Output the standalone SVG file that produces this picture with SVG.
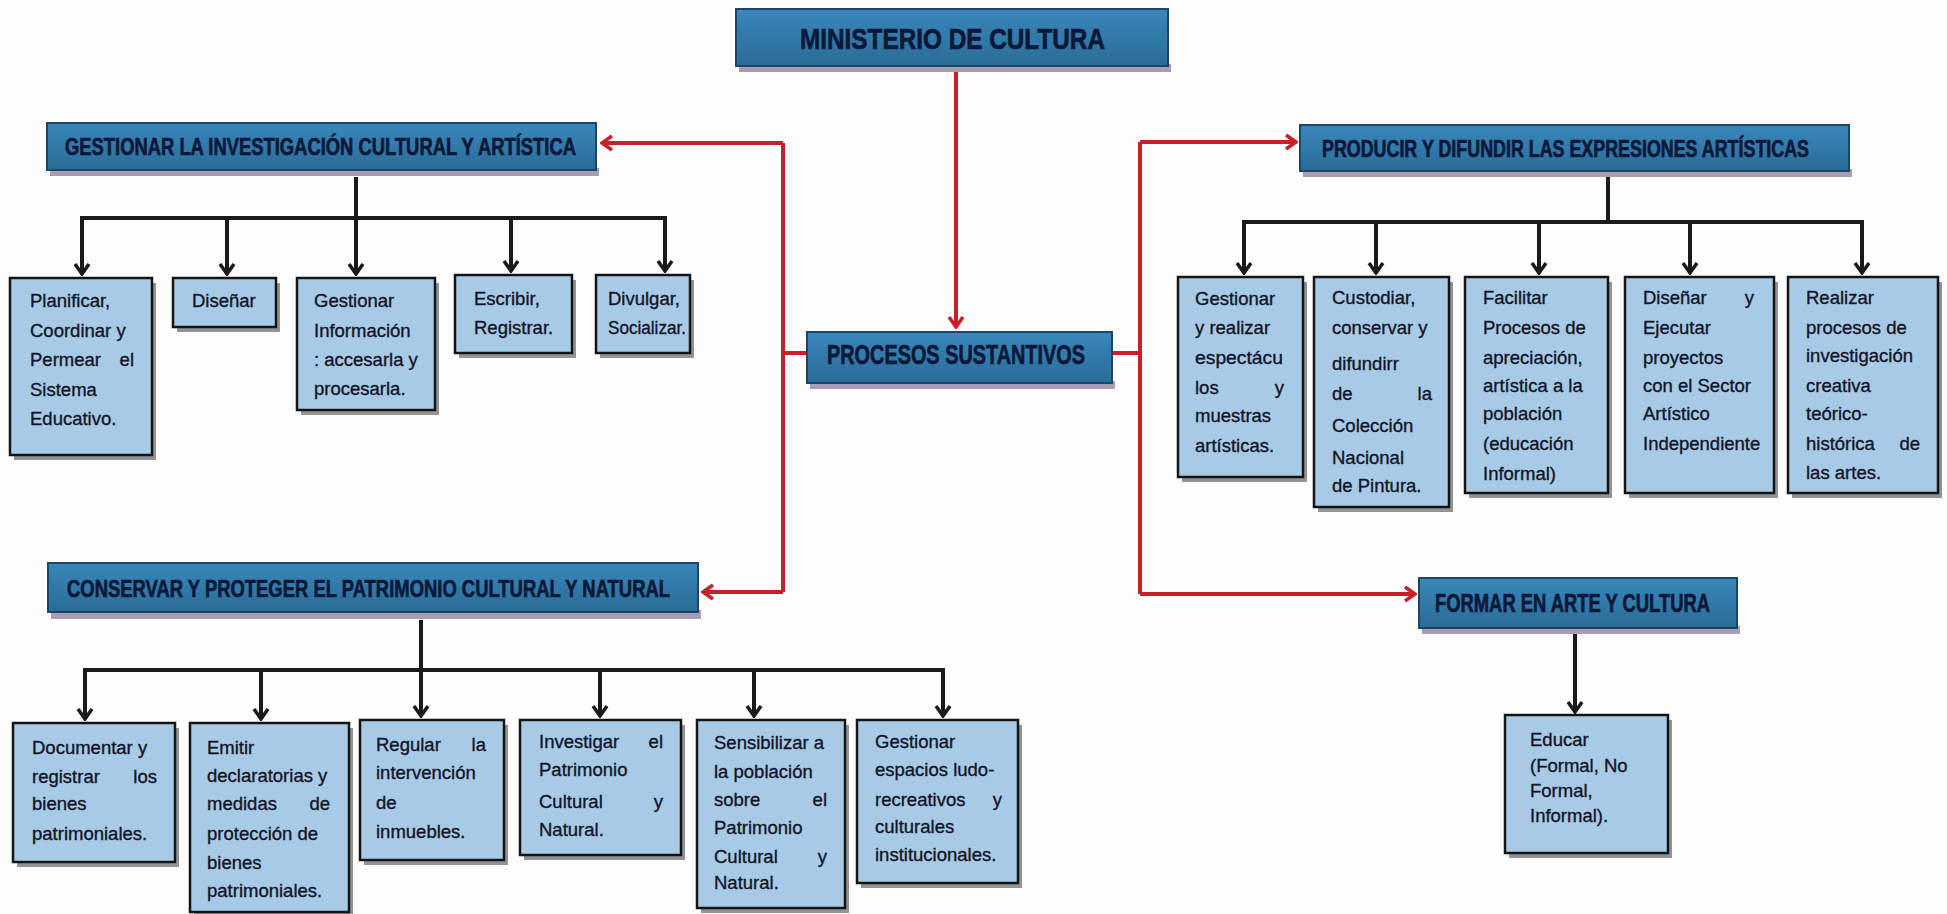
<svg xmlns="http://www.w3.org/2000/svg" width="1947" height="914" viewBox="0 0 1947 914">
<style>
.hb{fill:url(#gH);stroke:#1c4668;stroke-width:2}
.hs{fill:#a99cb3}
.ht{font-family:"Liberation Sans",Arial,sans-serif;font-weight:bold;fill:#0d1838;stroke:#0d1838;stroke-width:0.7}
.cb{fill:#a7cbe6;stroke:#141414;stroke-width:2.5}
.cs{fill:#3c3c3c;opacity:.55}
.t{font-family:"Liberation Sans",Arial,sans-serif;font-size:18.5px;fill:#141426;stroke:#141426;stroke-width:0.35}
.e{text-anchor:end}
.red{stroke:#c8202a;stroke-width:4;fill:none}
.blk{stroke:#1a1a1a;stroke-width:4;fill:none}
</style>
<defs>
<linearGradient id="gH" x1="0" y1="0" x2="0" y2="1">
<stop offset="0" stop-color="#3987bb"/>
<stop offset="1" stop-color="#2a6c97"/>
</linearGradient>
<marker id="aK" viewBox="-13 -9 15 18" markerWidth="15" markerHeight="18" refX="0" refY="0" orient="auto" markerUnits="userSpaceOnUse">
<path d="M-10,-7 L0,0 L-10,7" fill="none" stroke="#1a1a1a" stroke-width="3.5"/>
</marker>
<marker id="aR" viewBox="-13 -9 15 18" markerWidth="15" markerHeight="18" refX="0" refY="0" orient="auto" markerUnits="userSpaceOnUse">
<path d="M-10,-7 L0,0 L-10,7" fill="none" stroke="#c8202a" stroke-width="3.5"/>
</marker>
</defs>
<rect width="1947" height="914" fill="#fdfdfd"/>

<g id="connectors">
<path class="red" d="M956,70 V327" marker-end="url(#aR)"/>
<path class="red" d="M807,353 H783 M1112,353 H1140"/>
<path class="red" d="M783,143 V592"/>
<path class="red" d="M783,143 H602" marker-end="url(#aR)"/>
<path class="red" d="M783,592 H703" marker-end="url(#aR)"/>
<path class="red" d="M1140,142 V594"/>
<path class="red" d="M1140,142 H1296" marker-end="url(#aR)"/>
<path class="red" d="M1140,594 H1415" marker-end="url(#aR)"/>

<path class="blk" d="M356,177 V218 M80,218 H667"/>
<path class="blk" d="M82,218 V274" marker-end="url(#aK)"/>
<path class="blk" d="M227,218 V274" marker-end="url(#aK)"/>
<path class="blk" d="M356,218 V274" marker-end="url(#aK)"/>
<path class="blk" d="M511,218 V271" marker-end="url(#aK)"/>
<path class="blk" d="M665,218 V271" marker-end="url(#aK)"/>

<path class="blk" d="M1608,177 V222 M1242,222 H1864"/>
<path class="blk" d="M1244,222 V273" marker-end="url(#aK)"/>
<path class="blk" d="M1376,222 V273" marker-end="url(#aK)"/>
<path class="blk" d="M1539,222 V273" marker-end="url(#aK)"/>
<path class="blk" d="M1690,222 V273" marker-end="url(#aK)"/>
<path class="blk" d="M1862,222 V273" marker-end="url(#aK)"/>

<path class="blk" d="M421,620 V670 M83,670 H945"/>
<path class="blk" d="M85,670 V719" marker-end="url(#aK)"/>
<path class="blk" d="M261,670 V719" marker-end="url(#aK)"/>
<path class="blk" d="M421,670 V716" marker-end="url(#aK)"/>
<path class="blk" d="M600,670 V716" marker-end="url(#aK)"/>
<path class="blk" d="M754,670 V716" marker-end="url(#aK)"/>
<path class="blk" d="M943,670 V716" marker-end="url(#aK)"/>

<path class="blk" d="M1575,634 V712" marker-end="url(#aK)"/>
</g>

<g id="ministerio">
<rect class="hs" x="739" y="64" width="432" height="8"/>
<rect class="hb" x="736" y="9" width="432" height="57"/>
<text class="ht" x="800" y="49" font-size="30" textLength="305" lengthAdjust="spacingAndGlyphs">MINISTERIO DE CULTURA</text>
</g>

<g id="procesos">
<rect class="hs" x="810" y="381" width="305" height="8"/>
<rect class="hb" x="807" y="332" width="305" height="51"/>
<text class="ht" x="827" y="364" font-size="28" textLength="258" lengthAdjust="spacingAndGlyphs">PROCESOS SUSTANTIVOS</text>
</g>

<g id="gestionar-inv">
<rect class="hs" x="50" y="168" width="549" height="8"/>
<rect class="hb" x="47" y="123" width="549" height="47"/>
<text class="ht" x="65" y="155" font-size="24" textLength="511" lengthAdjust="spacingAndGlyphs">GESTIONAR LA INVESTIGACIÓN CULTURAL Y ARTÍSTICA</text>
</g>

<g id="producir">
<rect class="hs" x="1303" y="169" width="549" height="8"/>
<rect class="hb" x="1300" y="125" width="549" height="46"/>
<text class="ht" x="1322" y="157" font-size="23" textLength="487" lengthAdjust="spacingAndGlyphs">PRODUCIR Y DIFUNDIR LAS EXPRESIONES ARTÍSTICAS</text>
</g>

<g id="conservar">
<rect class="hs" x="51" y="610" width="650" height="9"/>
<rect class="hb" x="48" y="563" width="650" height="49"/>
<text class="ht" x="67" y="597" font-size="24" textLength="603" lengthAdjust="spacingAndGlyphs">CONSERVAR Y PROTEGER EL PATRIMONIO CULTURAL Y NATURAL</text>
</g>

<g id="formar">
<rect class="hs" x="1422" y="626" width="318" height="8"/>
<rect class="hb" x="1419" y="578" width="318" height="50"/>
<text class="ht" x="1435" y="612" font-size="25" textLength="275" lengthAdjust="spacingAndGlyphs">FORMAR EN ARTE Y CULTURA</text>
</g>

<g id="planificar">
<rect class="cs" x="14" y="283" width="142" height="177"/>
<rect class="cb" x="10" y="278" width="142" height="177"/>
<text class="t" x="30" y="307">Planificar,</text>
<text class="t" x="30" y="337">Coordinar y</text>
<text class="t" x="30" y="366">Permear</text><text class="t e" x="134" y="366">el</text>
<text class="t" x="30" y="396">Sistema</text>
<text class="t" x="30" y="425">Educativo.</text>
</g>

<g id="disenar">
<rect class="cs" x="177" y="283" width="103" height="49"/>
<rect class="cb" x="173" y="278" width="103" height="49"/>
<text class="t" x="192" y="307">Diseñar</text>
</g>

<g id="gestionar-info">
<rect class="cs" x="301" y="283" width="138" height="132"/>
<rect class="cb" x="297" y="278" width="138" height="132"/>
<text class="t" x="314" y="307">Gestionar</text>
<text class="t" x="314" y="337">Información</text>
<text class="t" x="314" y="366">: accesarla y</text>
<text class="t" x="314" y="395">procesarla.</text>
</g>

<g id="escribir">
<rect class="cs" x="459" y="280" width="117" height="78"/>
<rect class="cb" x="455" y="275" width="117" height="78"/>
<text class="t" x="474" y="305">Escribir,</text>
<text class="t" x="474" y="334">Registrar.</text>
</g>

<g id="divulgar">
<rect class="cs" x="600" y="280" width="94" height="78"/>
<rect class="cb" x="596" y="275" width="94" height="78"/>
<text class="t" x="608" y="305">Divulgar,</text>
<text class="t" x="608" y="334" textLength="78" lengthAdjust="spacingAndGlyphs">Socializar.</text>
</g>

<g id="gestionar-espect">
<rect class="cs" x="1182" y="282" width="125" height="200"/>
<rect class="cb" x="1178" y="277" width="125" height="200"/>
<text class="t" x="1195" y="305">Gestionar</text>
<text class="t" x="1195" y="334">y realizar</text>
<text class="t" x="1195" y="364" textLength="88" lengthAdjust="spacingAndGlyphs">espectácu</text>
<text class="t" x="1195" y="394">los</text><text class="t e" x="1284" y="394">y</text>
<text class="t" x="1195" y="422">muestras</text>
<text class="t" x="1195" y="452">artísticas.</text>
</g>

<g id="custodiar">
<rect class="cs" x="1318" y="282" width="135" height="230"/>
<rect class="cb" x="1314" y="277" width="135" height="230"/>
<text class="t" x="1332" y="304">Custodiar,</text>
<text class="t" x="1332" y="334">conservar y</text>
<text class="t" x="1332" y="370">difundirr</text>
<text class="t" x="1332" y="400">de</text><text class="t e" x="1432" y="400">la</text>
<text class="t" x="1332" y="432">Colección</text>
<text class="t" x="1332" y="464">Nacional</text>
<text class="t" x="1332" y="492">de Pintura.</text>
</g>

<g id="facilitar">
<rect class="cs" x="1469" y="282" width="143" height="216"/>
<rect class="cb" x="1465" y="277" width="143" height="216"/>
<text class="t" x="1483" y="304">Facilitar</text>
<text class="t" x="1483" y="334">Procesos de</text>
<text class="t" x="1483" y="364">apreciación,</text>
<text class="t" x="1483" y="392">artística a la</text>
<text class="t" x="1483" y="420">población</text>
<text class="t" x="1483" y="450">(educación</text>
<text class="t" x="1483" y="480">Informal)</text>
</g>

<g id="disenar-ejecutar">
<rect class="cs" x="1629" y="282" width="149" height="216"/>
<rect class="cb" x="1625" y="277" width="149" height="216"/>
<text class="t" x="1643" y="304">Diseñar</text><text class="t e" x="1754" y="304">y</text>
<text class="t" x="1643" y="334">Ejecutar</text>
<text class="t" x="1643" y="364">proyectos</text>
<text class="t" x="1643" y="392">con el Sector</text>
<text class="t" x="1643" y="420">Artístico</text>
<text class="t" x="1643" y="450">Independiente</text>
</g>

<g id="realizar">
<rect class="cs" x="1792" y="282" width="150" height="216"/>
<rect class="cb" x="1788" y="277" width="150" height="216"/>
<text class="t" x="1806" y="304">Realizar</text>
<text class="t" x="1806" y="334">procesos de</text>
<text class="t" x="1806" y="362">investigación</text>
<text class="t" x="1806" y="392">creativa</text>
<text class="t" x="1806" y="420">teórico-</text>
<text class="t" x="1806" y="450">histórica</text><text class="t e" x="1920" y="450">de</text>
<text class="t" x="1806" y="479">las artes.</text>
</g>

<g id="documentar">
<rect class="cs" x="17" y="728" width="162" height="139"/>
<rect class="cb" x="13" y="723" width="162" height="139"/>
<text class="t" x="32" y="754">Documentar y</text>
<text class="t" x="32" y="783">registrar</text><text class="t e" x="157" y="783">los</text>
<text class="t" x="32" y="810">bienes</text>
<text class="t" x="32" y="840">patrimoniales.</text>
</g>

<g id="emitir">
<rect class="cs" x="194" y="728" width="159" height="189"/>
<rect class="cb" x="190" y="723" width="159" height="189"/>
<text class="t" x="207" y="754">Emitir</text>
<text class="t" x="207" y="782">declaratorias y</text>
<text class="t" x="207" y="810">medidas</text><text class="t e" x="330" y="810">de</text>
<text class="t" x="207" y="840">protección de</text>
<text class="t" x="207" y="869">bienes</text>
<text class="t" x="207" y="897">patrimoniales.</text>
</g>

<g id="regular">
<rect class="cs" x="364" y="725" width="144" height="140"/>
<rect class="cb" x="360" y="720" width="144" height="140"/>
<text class="t" x="376" y="751">Regular</text><text class="t e" x="486" y="751">la</text>
<text class="t" x="376" y="779">intervención</text>
<text class="t" x="376" y="809">de</text>
<text class="t" x="376" y="838">inmuebles.</text>
</g>

<g id="investigar">
<rect class="cs" x="524" y="725" width="161" height="135"/>
<rect class="cb" x="520" y="720" width="161" height="135"/>
<text class="t" x="539" y="748">Investigar</text><text class="t e" x="663" y="748">el</text>
<text class="t" x="539" y="776">Patrimonio</text>
<text class="t" x="539" y="808">Cultural</text><text class="t e" x="663" y="808">y</text>
<text class="t" x="539" y="836">Natural.</text>
</g>

<g id="sensibilizar">
<rect class="cs" x="701" y="725" width="148" height="188"/>
<rect class="cb" x="697" y="720" width="148" height="188"/>
<text class="t" x="714" y="749">Sensibilizar a</text>
<text class="t" x="714" y="778">la población</text>
<text class="t" x="714" y="806">sobre</text><text class="t e" x="827" y="806">el</text>
<text class="t" x="714" y="834">Patrimonio</text>
<text class="t" x="714" y="863">Cultural</text><text class="t e" x="827" y="863">y</text>
<text class="t" x="714" y="889">Natural.</text>
</g>

<g id="gestionar-espacios">
<rect class="cs" x="861" y="725" width="161" height="163"/>
<rect class="cb" x="857" y="720" width="161" height="163"/>
<text class="t" x="875" y="748">Gestionar</text>
<text class="t" x="875" y="776">espacios ludo-</text>
<text class="t" x="875" y="806">recreativos</text><text class="t e" x="1002" y="806">y</text>
<text class="t" x="875" y="833">culturales</text>
<text class="t" x="875" y="861">institucionales.</text>
</g>

<g id="educar">
<rect class="cs" x="1509" y="720" width="163" height="138"/>
<rect class="cb" x="1505" y="715" width="163" height="138"/>
<text class="t" x="1530" y="746">Educar</text>
<text class="t" x="1530" y="772">(Formal, No</text>
<text class="t" x="1530" y="797">Formal,</text>
<text class="t" x="1530" y="822">Informal).</text>
</g>
</svg>
